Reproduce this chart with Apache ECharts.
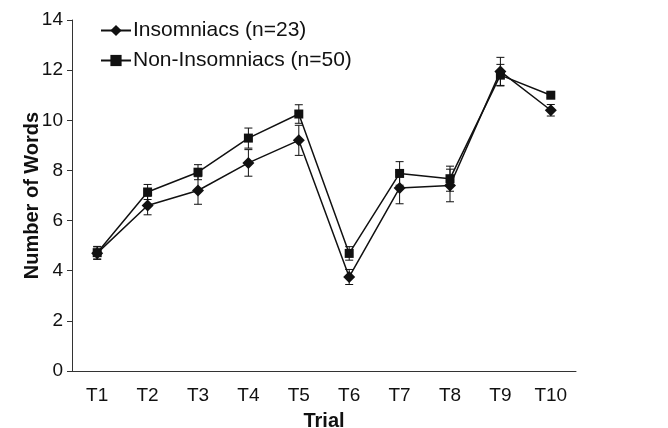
<!DOCTYPE html>
<html>
<head>
<meta charset="utf-8">
<script src="https://cdn.jsdelivr.net/npm/echarts@6/dist/echarts.min.js"></script>
<style>
  html, body { margin: 0; padding: 0; background: #fff; }
  #chart { width: 668px; height: 428px; }
</style>
</head>
<body>
<div id="chart"></div>
<script>
// trial labels
const trials = ['T1', 'T2', 'T3', 'T4', 'T5', 'T6', 'T7', 'T8', 'T9', 'T10'];
// mean words recalled per trial
const insomniacs = [4.7, 6.6, 7.2, 8.3, 9.2, 3.75, 7.3, 7.4, 11.95, 10.4];
const nonInsomniacs = [4.72, 7.14, 7.93, 9.29, 10.25, 4.69, 7.88, 7.67, 11.8, 11.0];
// error bar half-widths
const insomniacsErr = [0.25, 0.37, 0.55, 0.53, 0.6, 0.3, 0.63, 0.65, 0.56, 0.23];
const nonInsomniacsErr = [0.25, 0.3, 0.3, 0.4, 0.37, 0.27, 0.47, 0.5, 0.43, 0.1];
const yTicks = [0, 2, 4, 6, 8, 10, 12, 14];

const chartDom = document.getElementById('chart');
const myChart = echarts.init(chartDom);

const ink = '#111';
const font = '"Liberation Sans", Arial, sans-serif';

function errData(vals, errs) {
    return vals.map((v, i) => [i, v - errs[i], v + errs[i]]);
}

// vertical error bar with caps
function renderErr(params, api) {
    const i = api.value(0);
    const top = api.coord([i, api.value(2)]);
    const bot = api.coord([i, api.value(1)]);
    const w = 4;
    const style = { stroke: ink, lineWidth: 1 };
    return {
        type: 'group',
        children: [
            { type: 'line', shape: { x1: top[0], y1: top[1], x2: bot[0], y2: bot[1] }, style },
            { type: 'line', shape: { x1: top[0] - w, y1: top[1], x2: top[0] + w, y2: top[1] }, style },
            { type: 'line', shape: { x1: bot[0] - w, y1: bot[1], x2: bot[0] + w, y2: bot[1] }, style }
        ]
    };
}

const option = {
    backgroundColor: '#fff',
    animation: false,
    grid: { left: 72, right: 92, top: 20, bottom: 57, outerBoundsMode: 'none' },
    legend: {
        orient: 'vertical',
        left: 95,
        top: 15,
        itemWidth: 30,
        itemHeight: 14,
        itemGap: 9,
        textStyle: { color: ink, fontSize: 21, fontFamily: font, padding: [0, 0, 0, -3] },
        data: ['Insomniacs (n=23)', 'Non-Insomniacs (n=50)']
    },
    xAxis: {
        type: 'category',
        data: trials,
        name: 'Trial',
        nameLocation: 'middle',
        nameGap: 40,
        nameMoveOverlap: false,
        nameTextStyle: { color: ink, fontSize: 20, fontWeight: 'bold', fontFamily: font, verticalAlign: 'top' },
        axisLine: { lineStyle: { color: '#333', width: 1 } },
        axisTick: { length: 5, lineStyle: { color: '#333' } },
        axisLabel: { color: ink, fontSize: 19, fontFamily: font, margin: 15, interval: 0 },
        splitLine: { show: false }
    },
    yAxis: {
        type: 'value',
        min: yTicks[0],
        max: yTicks[yTicks.length - 1],
        interval: 2,
        name: 'Number of Words',
        nameLocation: 'middle',
        nameGap: 30,
        nameMoveOverlap: false,
        nameTextStyle: { color: ink, fontSize: 20, fontWeight: 'bold', fontFamily: font },
        axisLine: { show: true, lineStyle: { color: '#333', width: 1 } },
        axisTick: { show: true, length: 5, lineStyle: { color: '#333' } },
        axisLabel: { color: ink, fontSize: 19, fontFamily: font, margin: 9 },
        splitLine: { show: false }
    },
    series: [
        {
            type: 'custom',
            silent: true,
            renderItem: renderErr,
            encode: { x: 0, y: [1, 2] },
            data: errData(nonInsomniacs, nonInsomniacsErr),
            z: 1
        },
        {
            type: 'custom',
            silent: true,
            renderItem: renderErr,
            encode: { x: 0, y: [1, 2] },
            data: errData(insomniacs, insomniacsErr),
            z: 1
        },
        {
            name: 'Non-Insomniacs (n=50)',
            type: 'line',
            data: nonInsomniacs,
            symbol: 'rect',
            symbolSize: 9,
            lineStyle: { color: ink, width: 1.5 },
            itemStyle: { color: ink },
            z: 2
        },
        {
            name: 'Insomniacs (n=23)',
            type: 'line',
            data: insomniacs,
            symbol: 'diamond',
            symbolSize: 12,
            lineStyle: { color: ink, width: 1.5 },
            itemStyle: { color: ink },
            z: 3
        }
    ]
};

myChart.setOption(option);
window.addEventListener('resize', () => myChart.resize());
</script>
</body>
</html>
